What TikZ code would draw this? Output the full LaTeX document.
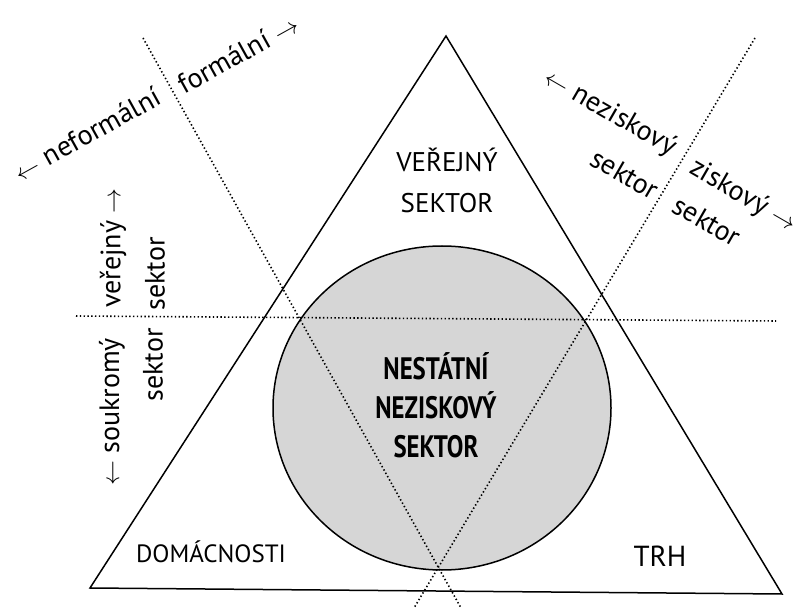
\documentclass[tikz,border=0pt]{standalone}
\usepackage{fontspec}
\setmainfont{PT Sans}
\newfontfamily\condfont[FakeStretch=0.8]{PT Sans}
\begin{document}
\begin{tikzpicture}[x=1pt,y=-1pt,
  dotline/.style={line width=1.6pt, dash pattern=on 1.4pt off 2.4pt},
  lbl/.style={font=\fontsize{28}{30}\selectfont, inner sep=0pt},
  captxt/.style={font=\fontsize{27}{41}\selectfont, align=center, inner sep=0pt},
  captxtb/.style={font=\condfont\bfseries\fontsize{31}{39}\selectfont, align=center, inner sep=0pt}]
\useasboundingbox (0,0) rectangle (798,609);
% triangle
\coordinate (A) at (446,36);
\coordinate (B) at (90,588);
\coordinate (C) at (782,594);
% circle
\fill[black!16] (442,408) ellipse [x radius=169, y radius=162];
\draw[line width=1.5pt] (442,408) ellipse [x radius=169, y radius=162];
\draw[line width=1.5pt, line join=miter] (A) -- (B) -- (C) -- cycle;
% dotted lines
\coordinate (h1) at (76,316);
\coordinate (h2) at (776,321);
\coordinate (d1a) at (143,38);
\coordinate (d1b) at (461,608);
\coordinate (d2a) at (755,38);
\coordinate (d2b) at (414,608);
\draw[dotline] (h1) -- (h2);
\draw[dotline] (d1a) -- (d1b);
\draw[dotline] (d2a) -- (d2b);
% labels
\node[captxt] (vs) at (447,180) {VEŘEJNÝ\\SEKTOR};
\node[captxtb] (nns) at (436,405) {NESTÁTNÍ\\NEZISKOVÝ\\SEKTOR};
\node[captxt, font=\fontsize{25}{30}\selectfont] (dom) at (211,552) {DOMÁCNOSTI};
\node[captxt, font=\fontsize{29}{30}\selectfont] (trh) at (660,556) {TRH};
\node[lbl, rotate=29] (nef) at (87,134) {$\leftarrow$ neformální};
\node[lbl, rotate=29] (for) at (238,54) {formální $\rightarrow$};
\node[lbl, rotate=-30] (nez) at (610,113) {$\leftarrow$ neziskový};
\node[lbl, rotate=-30] (nezs) at (625,174) {sektor};
\node[lbl, rotate=-30] (zis) at (743,196) {ziskový $\rightarrow$};
\node[lbl, rotate=-30] (ziss) at (707,221) {sektor};
\node[lbl, rotate=90] (ver) at (113,248) {veřejný $\rightarrow$};
\node[lbl, rotate=90] (vers) at (155,274) {sektor};
\node[lbl, rotate=90] (sou) at (112,412) {$\leftarrow$ soukromý};
\node[lbl, rotate=90] (sous) at (153,365) {sektor};
\end{tikzpicture}
\end{document}
